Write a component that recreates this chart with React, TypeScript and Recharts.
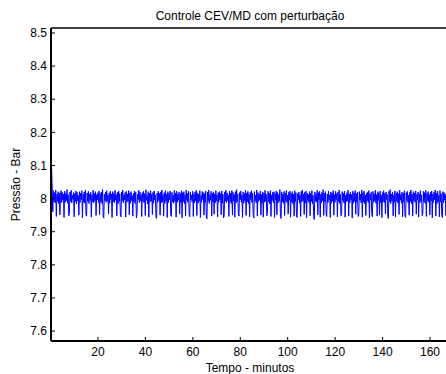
import React from "react";
import { LineChart, Line, XAxis, YAxis } from "recharts";

// pressão (bar), amostras a cada 0.25 min
const pressure = [
  7.570, 8.090, 8.035, 7.960, 8.024, 7.990, 8.018, 7.987, 8.026, 7.946, 8.013, 7.992, 8.021, 7.985, 8.017, 7.951, 8.010, 8.024, 7.988, 8.019,
  7.996, 8.014, 7.943, 8.022, 7.989, 8.016, 7.994, 8.027, 7.986, 8.012, 7.948, 7.955, 8.020, 7.991, 8.025, 7.987, 8.011, 7.998, 8.018, 7.945,
  8.015, 7.990, 8.023, 7.984, 8.019, 7.993, 8.009, 7.950, 8.021, 7.988, 8.016, 7.997, 8.024, 7.942, 8.013, 7.989, 8.020, 7.986, 8.026, 7.953,
  7.947, 8.017, 7.992, 8.022, 7.985, 8.014, 7.995, 8.019, 7.944, 8.011, 7.990, 8.025, 7.987, 8.016, 7.993, 8.021, 7.949, 8.012, 7.996, 8.018,
  7.988, 8.023, 7.952, 8.015, 7.991, 8.020, 7.985, 8.027, 7.946, 7.941, 8.013, 7.994, 8.019, 7.989, 8.024, 7.992, 8.010, 7.954, 8.017, 7.986,
  8.022, 7.997, 8.014, 7.943, 8.021, 7.990, 8.016, 7.988, 8.025, 7.995, 8.012, 7.948, 8.019, 7.984, 8.023, 7.991, 8.015, 7.950, 7.945, 8.020,
  7.993, 8.026, 7.987, 8.011, 7.996, 8.018, 7.944, 8.022, 7.989, 8.014, 7.992, 8.024, 7.951, 8.017, 7.986, 8.021, 7.994, 8.009, 7.947, 8.016,
  7.990, 8.023, 7.985, 8.019, 7.942, 7.953, 8.013, 7.997, 8.025, 7.988, 8.020, 7.993, 8.012, 7.946, 8.018, 7.991, 8.022, 7.987, 8.015, 7.949,
  8.027, 7.995, 8.010, 7.984, 8.021, 7.944, 8.016, 7.990, 8.024, 7.992, 8.013, 7.952, 8.019, 7.986, 8.023, 7.996, 8.011, 7.945, 7.940, 8.017,
  7.989, 8.022, 7.994, 8.015, 7.950, 8.020, 7.987, 8.026, 7.991, 8.012, 7.947, 8.018, 7.985, 8.024, 7.993, 8.014, 7.943, 8.021, 7.988, 8.016,
  7.997, 8.023, 7.951, 7.946, 8.019, 7.990, 8.010, 7.986, 8.025, 7.992, 8.017, 7.944, 8.022, 7.989, 8.013, 7.995, 8.020, 7.954, 8.015, 7.987,
  8.024, 7.942, 8.018, 7.991, 8.021, 7.985, 8.012, 7.948, 8.026, 7.994, 8.016, 7.988, 8.023, 7.952, 7.945, 8.019, 7.996, 8.011, 7.990, 8.022,
  7.946, 8.014, 7.987, 8.020, 7.993, 8.025, 7.949, 8.017, 7.986, 8.013, 7.992, 8.024, 7.943, 8.010, 7.989, 8.021, 7.997, 8.018, 7.950, 8.015,
  7.988, 8.023, 7.944, 7.939, 8.019, 7.991, 8.026, 7.985, 8.012, 7.995, 8.022, 7.947, 8.016, 7.990, 8.020, 7.953, 8.014, 7.987, 8.024, 7.993,
  8.011, 7.945, 8.018, 7.989, 8.021, 7.996, 8.015, 7.951, 8.023, 7.986, 8.013, 7.942, 7.948, 8.020, 7.992, 8.025, 7.988, 8.017, 7.994, 8.010,
  7.946, 8.022, 7.990, 8.016, 7.985, 8.024, 7.950, 8.019, 7.993, 8.012, 7.944, 8.021, 7.987, 8.027, 7.991, 8.014, 7.954, 7.947, 8.018, 7.996,
  8.023, 7.989, 8.011, 7.943, 8.020, 7.986, 8.015, 7.992, 8.025, 7.949, 8.017, 7.990, 8.022, 7.985, 8.013, 7.945, 8.019, 7.997, 8.024, 7.988,
  8.016, 7.952, 7.941, 8.021, 7.993, 8.010, 7.987, 8.026, 7.947, 8.018, 7.991, 8.014, 7.995, 8.023, 7.950, 8.012, 7.986, 8.020, 7.944, 8.017,
  7.989, 8.025, 7.992, 8.013, 7.948, 7.955, 8.022, 7.990, 8.016, 7.984, 8.024, 7.946, 8.011, 7.994, 8.019, 7.988, 8.021, 7.943, 8.015, 7.996,
  8.023, 7.951, 8.018, 7.987, 8.012, 7.993, 8.027, 7.945, 7.940, 8.020, 7.990, 8.014, 7.986, 8.022, 7.949, 8.017, 7.992, 8.025, 7.988, 8.010,
  7.953, 8.019, 7.995, 8.023, 7.944, 8.016, 7.989, 8.021, 7.985, 8.013, 7.947, 8.024, 7.991, 8.018, 7.950, 7.943, 8.015, 7.997, 8.020, 7.987,
  8.011, 7.946, 8.022, 7.990, 8.026, 7.993, 8.014, 7.952, 8.019, 7.986, 8.023, 7.942, 8.017, 7.994, 8.012, 7.988, 8.021, 7.948, 8.016, 7.991,
  8.024, 7.985, 8.010, 7.945, 7.937, 8.020, 7.992, 8.015, 7.989, 8.025, 7.951, 8.018, 7.996, 8.022, 7.944, 8.013, 7.987, 8.019, 7.993, 8.027,
  7.949, 8.016, 7.990, 8.021, 7.954, 7.946, 8.014, 7.988, 8.023, 7.995, 8.011, 7.943, 8.020, 7.986, 8.017, 7.992, 8.024, 7.950, 8.012, 7.989,
  8.022, 7.997, 8.015, 7.945, 8.019, 7.991, 8.026, 7.985, 8.013, 7.948, 7.952, 8.021, 7.994, 8.016, 7.987, 8.023, 7.944, 8.010, 7.990, 8.018,
  7.993, 8.025, 7.947, 8.014, 7.988, 8.020, 7.996, 8.012, 7.941, 8.022, 7.986, 8.017, 7.992, 8.024, 7.953, 8.015, 7.989, 8.019, 7.946, 7.950,
  8.021, 7.995, 8.013, 7.987, 8.026, 7.944, 8.018, 7.990, 8.023, 7.985, 8.011, 7.949, 8.016, 7.993, 8.020, 7.988, 8.024, 7.942, 8.014, 7.996,
  8.019, 7.951, 7.945, 8.022, 7.989, 8.015, 7.992, 8.025, 7.986, 8.012, 7.947, 8.021, 7.994, 8.017, 7.950, 8.023, 7.987, 8.010, 7.943, 8.018,
  7.991, 8.024, 7.988, 8.016, 7.954, 8.020, 7.997, 8.013, 7.946, 7.940, 8.022, 7.990, 8.027, 7.985, 8.014, 7.993, 8.019, 7.948, 8.011, 7.989,
  8.023, 7.944, 8.017, 7.992, 8.021, 7.987, 8.015, 7.952, 8.025, 7.995, 8.012, 7.986, 8.020, 7.945, 8.016, 7.990, 8.024, 7.949, 7.943, 8.018,
  7.994, 8.022, 7.988, 8.010, 7.950, 8.019, 7.991, 8.026, 7.985, 8.014, 7.947, 8.021, 7.993, 8.017, 7.989, 8.023, 7.953, 8.013, 7.996, 8.020,
  7.944, 8.015, 7.987, 8.024, 7.992, 8.011, 7.948, 7.955, 8.022, 7.990, 8.018, 7.986, 8.025, 7.946, 8.016, 7.994, 8.021, 7.989, 8.012, 7.951,
  8.019, 7.993, 8.023, 7.942, 8.014, 7.988, 8.020, 7.997, 8.026, 7.947, 8.017, 7.985, 8.022, 7.991, 8.010, 7.945, 8.024, 7.990, 8.015, 7.950,
  7.943, 8.021, 7.987, 8.018, 7.995, 8.013, 7.949, 8.023, 7.992, 8.016, 7.986, 8.020, 7.944, 8.025, 7.990, 8.012, 7.952, 8.019, 7.993, 8.022,
];

const TIME_START = 0.2;
const TIME_STEP = 0.25;

const xTicks = [20, 40, 60, 80, 100, 120, 140, 160];
const yTicks = [7.6, 7.7, 7.8, 7.9, 8, 8.1, 8.2, 8.3, 8.4, 8.5];

const X_DOMAIN: [number, number] = [0.2, 168];
const Y_DOMAIN: [number, number] = [7.57, 8.515];

const data = pressure.map((p, i) => ({ t: TIME_START + i * TIME_STEP, p }));

const tickStyle = { fill: "#000", fontSize: 12 };

const YTitle = (props: any) => {
  const vb = props.viewBox || {};
  const cy = vb.y + vb.height / 2;
  const x = 20;
  return (
    <text
      x={x}
      y={cy}
      transform={`rotate(-90, ${x}, ${cy})`}
      textAnchor="middle"
      fill="#000"
      fontSize={12}
    >
      Pressão - Bar
    </text>
  );
};

export default function App() {
  return (
    <div
      style={{
        position: "absolute",
        left: 0,
        top: 0,
        width: 446,
        height: 374,
        overflow: "hidden",
        background: "#fff",
        fontFamily: "'Liberation Sans', Arial, sans-serif",
      }}
    >
      <LineChart
        width={460}
        height={374}
        data={data}
        margin={{ top: 27, right: 11, bottom: 0, left: 0 }}
      >
        <XAxis
          dataKey="t"
          type="number"
          domain={X_DOMAIN}
          ticks={xTicks}
          allowDataOverflow
          height={33}
          tickSize={-4}
          tickMargin={10}
          tick={tickStyle}
          axisLine={{ stroke: "#000", strokeWidth: 2 }}
          tickLine={{ stroke: "#000" }}
          label={{ value: "Tempo - minutos", position: "insideBottom", offset: 2, fill: "#000", fontSize: 12 }}
        />
        <XAxis
          xAxisId="top"
          dataKey="t"
          orientation="top"
          type="number"
          domain={X_DOMAIN}
          ticks={xTicks}
          allowDataOverflow
          height={1}
          tickSize={-4}
          tick={false}
          axisLine={{ stroke: "#000", strokeWidth: 1.5 }}
          tickLine={{ stroke: "#000" }}
          label={{ value: "Controle CEV/MD com perturbação", position: "top", offset: 7, fill: "#000", fontSize: 12 }}
        />
        <YAxis
          type="number"
          domain={Y_DOMAIN}
          ticks={yTicks}
          allowDataOverflow
          width={51}
          tickSize={-4}
          tickMargin={8}
          tick={tickStyle}
          axisLine={{ stroke: "#000", strokeWidth: 2 }}
          tickLine={{ stroke: "#000" }}
          label={<YTitle />}
        />
        <YAxis
          yAxisId="right"
          orientation="right"
          type="number"
          domain={Y_DOMAIN}
          ticks={yTicks}
          allowDataOverflow
          width={0}
          tickSize={-4}
          tick={false}
          axisLine={{ stroke: "#000", strokeWidth: 1.5 }}
          tickLine={{ stroke: "#000" }}
        />
        <Line
          dataKey="p"
          type="linear"
          stroke="#0000ff"
          strokeWidth={1}
          dot={false}
          isAnimationActive={false}
        />
        <Line
          xAxisId="top"
          yAxisId="right"
          dataKey="p"
          type="linear"
          stroke="none"
          dot={false}
          activeDot={false}
          isAnimationActive={false}
        />
      </LineChart>
    </div>
  );
}
